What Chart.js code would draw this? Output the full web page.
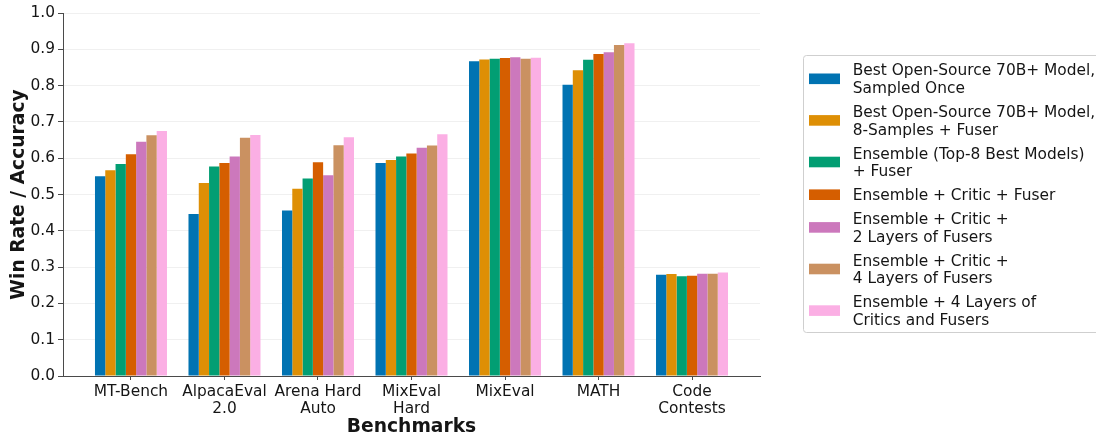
<!DOCTYPE html>
<html>
<head>
<meta charset="utf-8">
<title>Win Rate / Accuracy by Benchmark</title>
<script src="https://cdn.jsdelivr.net/npm/chart.js@4.4.1/dist/chart.umd.min.js"></script>
<style>
  html, body { margin: 0; padding: 0; background: #ffffff; }
  #wrap { width: 1096px; height: 438px; position: relative; }
</style>
</head>
<body>
<div id="wrap"><canvas id="chart" width="1096" height="438"></canvas></div>
<script>
// Benchmark tick labels (multi-line where the label wraps)
const benchmarks = [
  ['MT-Bench'],
  ['AlpacaEval', '2.0'],
  ['Arena Hard', 'Auto'],
  ['MixEval', 'Hard'],
  ['MixEval'],
  ['MATH'],
  ['Code', 'Contests']
];

// Series labels (one array of lines per legend entry)
const seriesNames = [
  ['Best Open-Source 70B+ Model,', 'Sampled Once'],
  ['Best Open-Source 70B+ Model,', '8-Samples + Fuser'],
  ['Ensemble (Top-8 Best Models)', '+ Fuser'],
  ['Ensemble + Critic + Fuser'],
  ['Ensemble + Critic +', '2 Layers of Fusers'],
  ['Ensemble + Critic +', '4 Layers of Fusers'],
  ['Ensemble + 4 Layers of', 'Critics and Fusers']
];

// Scores per benchmark, in the order of `benchmarks`
const bestSampledOnce   = [0.550, 0.446, 0.456, 0.587, 0.867, 0.802, 0.279];
const bestEightSamples  = [0.567, 0.532, 0.516, 0.595, 0.872, 0.842, 0.281];
const ensembleFuser     = [0.584, 0.577, 0.544, 0.605, 0.874, 0.871, 0.275];
const ensembleCritic    = [0.611, 0.587, 0.589, 0.613, 0.876, 0.887, 0.276];
const critic2Layers     = [0.645, 0.605, 0.553, 0.629, 0.878, 0.892, 0.282];
const critic4Layers     = [0.663, 0.656, 0.636, 0.635, 0.874, 0.912, 0.282];
const critics4Fusers4   = [0.675, 0.664, 0.658, 0.666, 0.877, 0.917, 0.285];

// Y-axis tick values
const yTicks = [0.0, 0.1, 0.2, 0.3, 0.4, 0.5, 0.6, 0.7, 0.8, 0.9, 1.0];

const seriesValues = [bestSampledOnce, bestEightSamples, ensembleFuser, ensembleCritic,
                      critic2Layers, critic4Layers, critics4Fusers4];
const palette = ['#0173B2', '#DE8F05', '#029E73', '#D55E00', '#CC78BC', '#CA9161', '#FBAFE4'];

const FONT = "'DejaVu Sans', 'Liberation Sans', sans-serif";
const TEXT = '#151515';
const AXIS = '#4a4a4a';

const datasets = seriesValues.map((vals, i) => ({
  label: seriesNames[i].join(' '),
  data: vals.map((v, j) => ({ x: j, y: v })),
  backgroundColor: palette[i],
  borderWidth: 0,
  categoryPercentage: 0.77,
  barPercentage: 1.0
}));

// Boxed legend with wrapped labels, drawn to the right of the plot
const sideLegend = {
  id: 'sideLegend',
  afterDraw(chart) {
    const ctx = chart.ctx;
    ctx.save();
    const boxL = 803.5, boxT = 55.5, boxB = 332.5, boxR = 1110, r = 3;
    ctx.beginPath();
    ctx.moveTo(boxL + r, boxT);
    ctx.lineTo(boxR, boxT);
    ctx.lineTo(boxR, boxB);
    ctx.lineTo(boxL + r, boxB);
    ctx.arcTo(boxL, boxB, boxL, boxB - r, r);
    ctx.lineTo(boxL, boxT + r);
    ctx.arcTo(boxL, boxT, boxL + r, boxT, r);
    ctx.closePath();
    ctx.fillStyle = 'rgba(255,255,255,0.85)';
    ctx.fill();
    ctx.strokeStyle = '#cfcfcf';
    ctx.lineWidth = 1;
    ctx.stroke();

    const lineH = 17.8, gap = 6.0;
    ctx.font = "15.4px " + FONT;
    ctx.textBaseline = 'alphabetic';
    ctx.textAlign = 'left';
    let top = 78.8 - lineH; // top of the first entry
    seriesNames.forEach((lines, i) => {
      const h = lines.length * lineH;
      const cy = top + h / 2;
      ctx.fillStyle = palette[i];
      ctx.fillRect(809, cy - 5.3, 31, 10.6);
      ctx.fillStyle = TEXT;
      lines.forEach((ln, k) => {
        const base = cy - (lines.length - 1) * lineH / 2 + k * lineH + 5.5;
        ctx.fillText(ln, 852.7, base);
      });
      top += h + gap;
    });
    ctx.restore();
  }
};

new Chart(document.getElementById('chart'), {
  type: 'bar',
  data: { datasets },
  options: {
    responsive: false,
    animation: false,
    devicePixelRatio: 1,
    layout: { padding: { top: 13, right: 336, bottom: 0, left: 0 } },
    plugins: {
      legend: { display: false },
      tooltip: { enabled: false }
    },
    scales: {
      x: {
        type: 'linear',
        min: -0.727,
        max: 6.727,
        offset: false,
        afterBuildTicks: (axis) => { axis.ticks = benchmarks.map((_, i) => ({ value: i })); },
        afterFit: (axis) => { axis.height = 62; },
        grid: {
          offset: false,
          drawOnChartArea: false,
          drawTicks: true,
          tickLength: 4,
          tickColor: AXIS
        },
        border: { display: true, color: AXIS, width: 1 },
        ticks: {
          autoSkip: false,
          maxRotation: 0,
          padding: 3,
          color: TEXT,
          font: { family: FONT, size: 15.4, lineHeight: 1.13 },
          callback: (v) => benchmarks[Math.round(v)]
        },
        title: {
          display: true,
          text: 'Benchmarks',
          color: TEXT,
          font: { family: FONT, size: 18.7, weight: 'bold' },
          padding: { top: 0, bottom: 0 }
        }
      },
      y: {
        min: 0,
        max: 1,
        afterBuildTicks: (axis) => { axis.ticks = yTicks.map(v => ({ value: v })); },
        afterFit: (axis) => { axis.width = 63; },
        grid: {
          color: 'rgba(0,0,0,0.06)',
          drawTicks: true,
          tickLength: 5,
          tickColor: AXIS
        },
        border: { display: true, color: AXIS, width: 1 },
        ticks: {
          padding: 3,
          color: TEXT,
          font: { family: FONT, size: 15.4 },
          callback: (v) => Number(v).toFixed(1)
        },
        title: {
          display: true,
          text: 'Win Rate / Accuracy',
          color: TEXT,
          font: { family: FONT, size: 18.7, weight: 'bold' },
          padding: { top: 8, bottom: 0 }
        }
      }
    }
  },
  plugins: [sideLegend]
});
</script>
</body>
</html>
